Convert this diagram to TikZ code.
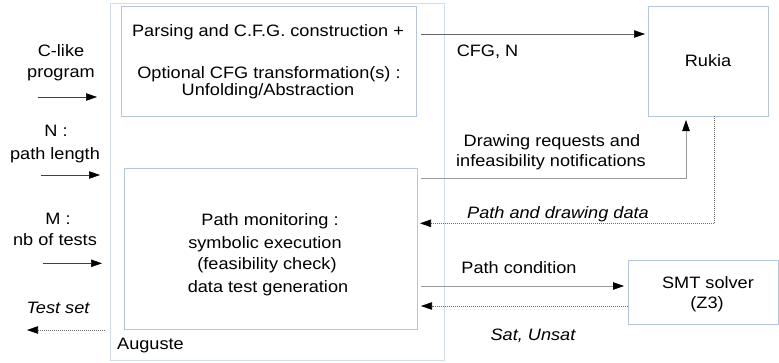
\documentclass[tikz,border=0pt]{standalone}
\usepackage{fontspec}
\setmainfont{Liberation Sans}[FakeStretch=1.1]
\usetikzlibrary{arrows.meta}
\definecolor{outerline}{HTML}{D3DDEA}
\definecolor{boxline}{HTML}{B4C5DC}
\definecolor{wire}{HTML}{9A9A9A}
\definecolor{dotline}{HTML}{6E6E6E}
\tikzset{
  box/.style={draw=boxline, line width=0.9pt, anchor=north west, inner sep=0pt, outer sep=0pt},
  txt/.style={font=\fontsize{16.5}{18}\selectfont, inner sep=0pt, anchor=base},
  itxt/.style={txt, font=\fontsize{16.5}{18}\selectfont\itshape},
  tip/.style={-{Triangle[length=11pt,width=7.5pt,color=black]}},
  solidwire/.style={draw=wire, line width=0.8pt, tip},
  dottedwire/.style={draw=dotline, line width=0.6pt, dash pattern=on 1pt off 1pt, tip}
}
\begin{document}
\begin{tikzpicture}[x=1pt,y=-1pt]
\useasboundingbox (0,0) rectangle (779,362);

% boxes
\node[box, draw=outerline, minimum width=334pt, minimum height=357pt] (auguste) at (110,3) {};
\node[box, minimum width=295pt, minimum height=110pt] (parse) at (121,6) {};
\node[box, minimum width=293pt, minimum height=161pt] (monitor) at (124,168) {};
\node[box, minimum width=120pt, minimum height=110pt] (rukia) at (648,6) {};
\node[box, minimum width=150pt, minimum height=64pt] (smt) at (628,260) {};

% box texts
\node[txt] (parse1) at (268,36) {Parsing and C.F.G. construction +};
\node[txt] (parse2) at (269,78) {Optional CFG transformation(s) :};
\node[txt] (parse3) at (268,95.5) {Unfolding/Abstraction};
\node[txt] (mon1) at (270,225.7) {Path monitoring :};
\node[txt] (mon2) at (265,248.3) {symbolic execution};
\node[txt] (mon3) at (267,269) {(feasibility check)};
\node[txt] (mon4) at (268,292.7) {data test generation};
\node[txt, anchor=base west] (augname) at (117,349) {Auguste};
\node[txt] (rukianame) at (708,66.7) {Rukia};
\node[txt] (smt1) at (708,288) {SMT solver};
\node[txt] (smt2) at (707,308) {(Z3)};

% inputs and output on the left
\node[txt] (in1a) at (61,56) {C-like};
\node[txt] (in1b) at (61,77.3) {program};
\node[txt] (in2a) at (56,136.7) {N :};
\node[txt] (in2b) at (55,159) {path length};
\node[txt] (in3a) at (58,224.3) {M :};
\node[txt] (in3b) at (55,245) {nb of tests};
\node[itxt] (outlbl) at (58,313.3) {Test set};

\coordinate (inprog) at (38,97);
\coordinate (inlen) at (41,175);
\coordinate (intests) at (43,263.3);
\coordinate (outset) at (27,330);
\draw[solidwire, draw=black!75, line width=0.6pt, shorten >=13pt] (inprog) -- (inprog -| auguste.west);
\draw[solidwire, draw=black!75, line width=0.6pt, shorten >=10pt] (inlen) -- (inlen -| auguste.west);
\draw[solidwire, draw=black!75, line width=0.6pt, shorten >=8pt] (intests) -- (intests -| auguste.west);
\draw[dottedwire, shorten <=5pt] (outset -| auguste.west) -- (outset);

% CFG to Rukia
\coordinate (cfgout) at (421,34);
\draw[solidwire, draw=black!60, line width=0.6pt, shorten >=3pt] (cfgout) -- (cfgout -| rukia.west);
\node[txt] (cfglbl) at (487.5,56.7) {CFG, N};

% drawing requests up to Rukia
\coordinate (reqout) at (421,178.3);
\coordinate (reqcorner) at (686,178.3);
\draw[solidwire, shorten >=4pt] (reqout) -- (reqcorner) -- (reqcorner |- rukia.south);
\node[txt] (req1) at (552,146.7) {Drawing requests and};
\node[txt] (req2) at (551,166.7) {infeasibility notifications};

% path and drawing data back from Rukia
\coordinate (datacorner) at (714.3,223.3);
\draw[dottedwire, shorten >=3pt] (datacorner |- rukia.south) -- (datacorner) -- (datacorner -| monitor.east);
\node[itxt] (datalbl) at (558,218) {Path and drawing data};

% solver exchange
\coordinate (pcout) at (421,286);
\draw[solidwire, shorten >=4pt] (pcout) -- (pcout -| smt.west);
\node[txt] (pclbl) at (519,273) {Path condition};
\coordinate (satin) at (421,306);
\draw[dottedwire] (satin -| smt.west) -- (satin);
\node[itxt] (satlbl) at (533,340) {Sat, Unsat};
\end{tikzpicture}
\end{document}
